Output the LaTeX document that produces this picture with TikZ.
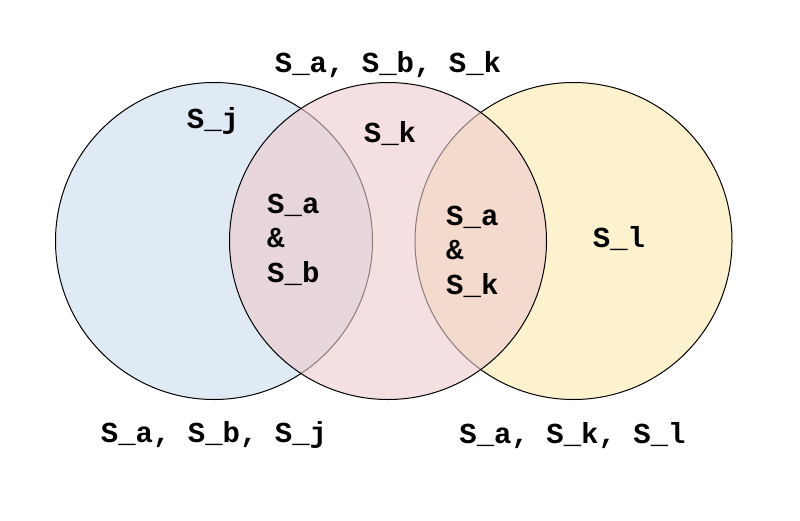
\documentclass[tikz,border=0pt]{standalone}
\usepackage{fontspec}
\setmonofont{Liberation Mono}
\begin{document}
\begin{tikzpicture}[x=1pt,y=-1pt,
  lbl/.style={font=\fontsize{29}{34.5}\selectfont\ttfamily\bfseries, inner sep=0pt, text=black},
  setcirc/.style={draw=black, line width=1pt}]
\definecolor{cblue}{RGB}{224,234,245}
\definecolor{cyellow}{RGB}{252,242,206}
\definecolor{cpink}{RGB}{238,202,205}
\useasboundingbox (0,0) rectangle (800,520);
\fill[white] (0,0) rectangle (800,520);
% circles
\path[setcirc, fill=cblue] (214,241) circle[radius=158.5];
\path[setcirc, fill=cyellow] (573.5,241) circle[radius=158.5];
\path[setcirc, fill=cpink, fill opacity=0.6] (388,241) circle[radius=158.5];
% labels
\node[lbl, anchor=base] (tabk) at (388,72) {S\_a, S\_b, S\_k};
\node[lbl, anchor=base] (tj) at (213,128) {S\_j};
\node[lbl, anchor=base] (tk) at (390,142) {S\_k};
\node[lbl, anchor=base] (tl) at (619,247) {S\_l};
\node[lbl, anchor=base] (tabj) at (214,442) {S\_a, S\_b, S\_j};
\node[lbl, anchor=base] (takl) at (572.5,443) {S\_a, S\_k, S\_l};
\node[lbl, anchor=base west, align=left] (tab) at (267,282) {S\_a\\\&\\S\_b};
\node[lbl, anchor=base west, align=left] (tak) at (446,294) {S\_a\\\&\\S\_k};
\end{tikzpicture}
\end{document}
